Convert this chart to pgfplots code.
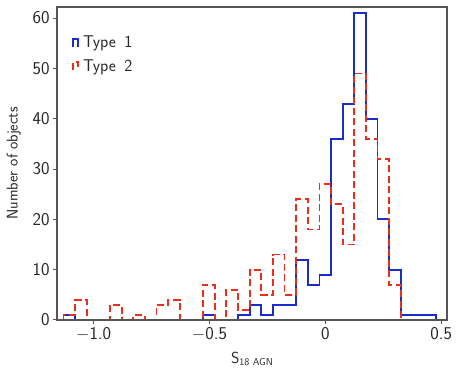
\documentclass[border=0pt]{standalone}
\usepackage{fontspec}
\usepackage{pgfplots}
\pgfplotsset{compat=1.18}
\usepackage{pgfplotstable}
\definecolor{tblue}{RGB}{25,45,200}
\definecolor{tred}{RGB}{235,45,30}
\definecolor{spine}{RGB}{85,85,85}
\pgfplotstableread{
x t1 t2
-1.1300 0 0
-1.1300 1 1
-1.0798 0 4
-1.0296 0 0
-0.9794 0 0
-0.9292 0 3
-0.8790 0 0
-0.8288 0 1
-0.7786 0 0
-0.7284 0 3
-0.6782 0 4
-0.6280 0 0
-0.5778 0 0
-0.5276 1 7
-0.4774 0 0
-0.4272 0 6
-0.3770 1 2
-0.3268 3 10
-0.2766 1 5
-0.2264 3 13
-0.1762 3 5
-0.1260 12 24
-0.0758 7 18
-0.0256 9 27
0.0246 36 23
0.0748 43 15
0.1250 61 49
0.1752 40 36
0.2254 20 32
0.2756 10 7
0.3258 1 0
0.3760 1 0
0.4262 1 0
0.4764 1 0
0.4764 0 0
}\hist
\begin{document}
\begin{tikzpicture}
\useasboundingbox (-57pt,-51pt) rectangle (406pt,320pt);
\begin{axis}[
  scale only axis,
  width=390pt, height=313pt,
  xmin=-1.158, xmax=0.525,
  ymin=0, ymax=62.2,
  axis on top,
  axis line style={spine, line width=1.1pt},
  every tick/.style={spine, line width=1.0pt},
  tick align=outside,
  major tick length=4pt,
  xtick pos=bottom, ytick pos=left,
  xtick={-1,-0.5,0,0.5},
  xticklabels={$-$1.0,$-$0.5,0,0.5},
  ytick={0,10,20,30,40,50,60},
  /pgf/number format/assume math mode=true,
  tick label style={font=\sffamily\fontsize{18}{20}\selectfont, text=black!85},
  xlabel={\fontsize{16}{18}\selectfont S\raisebox{-2.5pt}{\fontsize{10}{12}\selectfont 18 AGN}},
  ylabel={Number of objects},
  label style={font=\sffamily\fontsize{15.5}{17}\selectfont, text=black!85},
  xlabel style={yshift=-4pt},
  ylabel style={yshift=5pt},
  legend cell align=left,
  legend style={at={(0.031,0.92)}, anchor=north west, draw=none, fill=none,
    font=\sffamily\fontsize{17}{19}\selectfont, text=black!85, row sep=6pt,
    /tikz/every even column/.append style={column sep=0pt}},
  legend image code/.code={\draw[#1] (0pt,-4pt) -- (0pt,4pt) -- (5pt,4pt) -- (5pt,-4pt);
    \path[draw=none] (0pt,0pt) (8pt,0pt);},
]
\addplot[const plot mark left, tblue, line width=1.8pt] table[x=x,y=t1]{\hist};
\addlegendentry{Type\hspace{0.5em}1}
\addplot[const plot mark left, tred, line width=1.8pt, dash pattern=on 7pt off 3.5pt] table[x=x,y=t2]{\hist};
\addlegendentry{Type\hspace{0.5em}2}
\end{axis}
\end{tikzpicture}
\end{document}
